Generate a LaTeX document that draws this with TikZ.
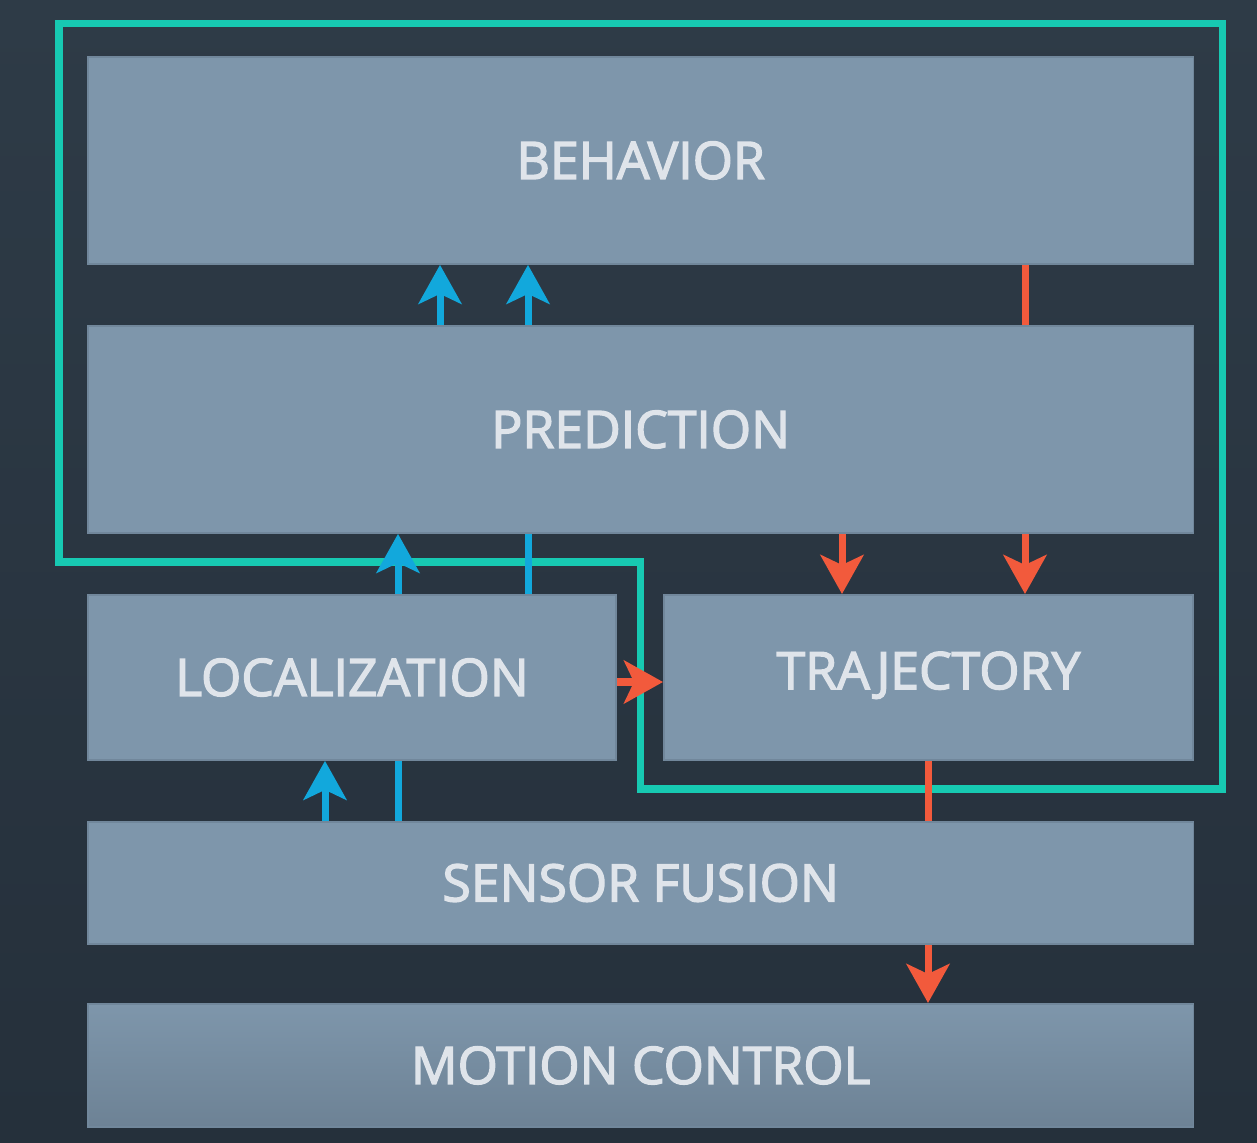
\documentclass[tikz,border=0pt]{standalone}
\usepackage{fontspec}
\newfontfamily\lbl{Open Sans}[FakeBold=2.6]
\usetikzlibrary{arrows.meta}
\definecolor{bgtop}{HTML}{2E3B47}
\definecolor{bgbot}{HTML}{25303B}
\definecolor{boxfill}{HTML}{7E96AB}
\definecolor{boxbot}{HTML}{6D8295}
\definecolor{boxedge}{HTML}{71879B}
\definecolor{loopline}{HTML}{17C9B2}
\definecolor{flowblue}{HTML}{12A8DC}
\definecolor{flowred}{HTML}{F25A3C}
\definecolor{labeltext}{HTML}{DFE4EA}
\tikzset{
  block/.style={rectangle, fill=boxfill, draw=boxedge, line width=0.5pt,
    inner sep=0pt, anchor=north west, text=labeltext,
    font=\lbl\fontsize{14.7}{17}\selectfont},
  blueflow/.style={draw=flowblue, line width=0.07cm},
  redflow/.style={draw=flowred, line width=0.07cm},
  headed/.style={-{Stealth[length=0.39cm,width=0.43cm,inset=0.1cm]}},
}
\begin{document}
\begin{tikzpicture}[x=0.01cm, y=-0.01cm]
  % background
  \shade[top color=bgtop, bottom color=bgbot] (0,0) rectangle (1257,1143);
  \useasboundingbox (0,0) rectangle (1257,1143);

  % feedback loop outline
  \draw[loopline, line width=0.07cm, line join=miter]
    (59,24) -- (1222,24) -- (1222,789) -- (640,789) -- (640,562) -- (59,562) -- cycle;

  % layers
  \node[block, minimum width=11.05cm, minimum height=2.07cm] (beh)  at (87,56)   {BEHAVIOR};
  \node[block, minimum width=11.05cm, minimum height=2.07cm] (pred) at (87,325)  {PREDICTION};
  \node[block, minimum width=5.28cm,  minimum height=1.65cm] (loc)  at (87,594)  {LOCALIZATION};
  \node[block, minimum width=5.29cm,  minimum height=1.65cm] (traj) at (663,594) {\raisebox{4pt}{TRAJECTORY}};
  \node[block, minimum width=11.05cm, minimum height=1.22cm] (sf)   at (87,821)  {SENSOR FUSION};
  \node[block, minimum width=11.05cm, minimum height=1.23cm, top color=boxfill, bottom color=boxbot] (mc) at (87,1003) {MOTION CONTROL};

  % connector columns
  \coordinate (c325) at (325,0);
  \coordinate (c398) at (398,0);
  \coordinate (c440) at (440,0);
  \coordinate (c528) at (528,0);
  \coordinate (c842) at (842,0);
  \coordinate (c928) at (928,0);
  \coordinate (c1025) at (1025,0);
  \coordinate (r682) at (0,682);

  % data flowing upwards
  \draw[blueflow, headed] (pred.north -| c440) -- (beh.south -| c440);
  \draw[blueflow, headed] (pred.north -| c528) -- (beh.south -| c528);
  \draw[blueflow, headed] (loc.north -| c398) -- (pred.south -| c398);
  \draw[blueflow] (loc.north -| c528) -- (pred.south -| c528);
  \draw[blueflow, headed] (sf.north -| c325) -- (loc.south -| c325);
  \draw[blueflow] (sf.north -| c398) -- (loc.south -| c398);

  % commands flowing downwards
  \draw[redflow] (beh.south -| c1025) -- (pred.north -| c1025);
  \draw[redflow, headed] (pred.south -| c842) -- (traj.north -| c842);
  \draw[redflow, headed] (pred.south -| c1025) -- (traj.north -| c1025);
  \draw[redflow, headed] (loc.east |- r682) -- (traj.west |- r682);
  \draw[redflow] (traj.south -| c928) -- (sf.north -| c928);
  \draw[redflow, headed] (sf.south -| c928) -- (mc.north -| c928);
\end{tikzpicture}
\end{document}
